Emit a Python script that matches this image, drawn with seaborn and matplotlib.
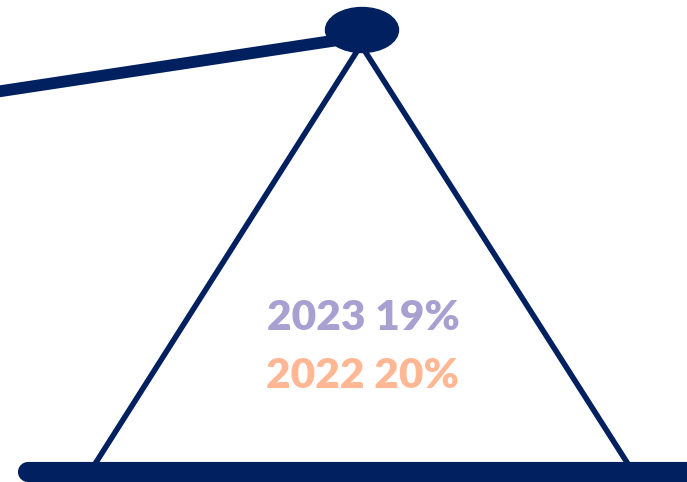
import numpy as np
import matplotlib.pyplot as plt
import seaborn as sns
from matplotlib.patches import Ellipse

sns.set_theme(style="white")
plt.rcParams['font.family'] = ['Lato', 'DejaVu Sans']

NAVY = "#002060"
LAVENDER = "#a9a0d2"
PEACH = "#ffb794"

# Values shown on the scale
years = ["2023", "2022"]
shares = [19, 20]
label_colors = [LAVENDER, PEACH]

fig = plt.figure(figsize=(6.87, 4.82), dpi=100)
ax = fig.add_axes([0, 0, 1, 1])
ax.set_xlim(0, 687)
ax.set_ylim(482, 0)
ax.axis("off")

# balance beam (tilted arm)
ax.plot([-5, 345], [92, 39], color=NAVY, linewidth=8.5, solid_capstyle="butt")
# triangle stand
ax.plot([95, 361, 628], [464, 45, 464], color=NAVY, linewidth=4, solid_joinstyle="miter")
# base bar
ax.plot([28, 720], [472, 472], color=NAVY, linewidth=14.5, solid_capstyle="round")
# pivot knob
ax.add_patch(Ellipse((362, 30), 73, 45, color=NAVY, zorder=5))

for i, (yr, s, c) in enumerate(zip(years, shares, label_colors)):
    ax.text(363, 318 + i * 58, f"{yr} {s}%", color=c, fontsize=30.5, fontweight="heavy",
            ha="center", va="center")

plt.savefig("out.png", dpi=100)
